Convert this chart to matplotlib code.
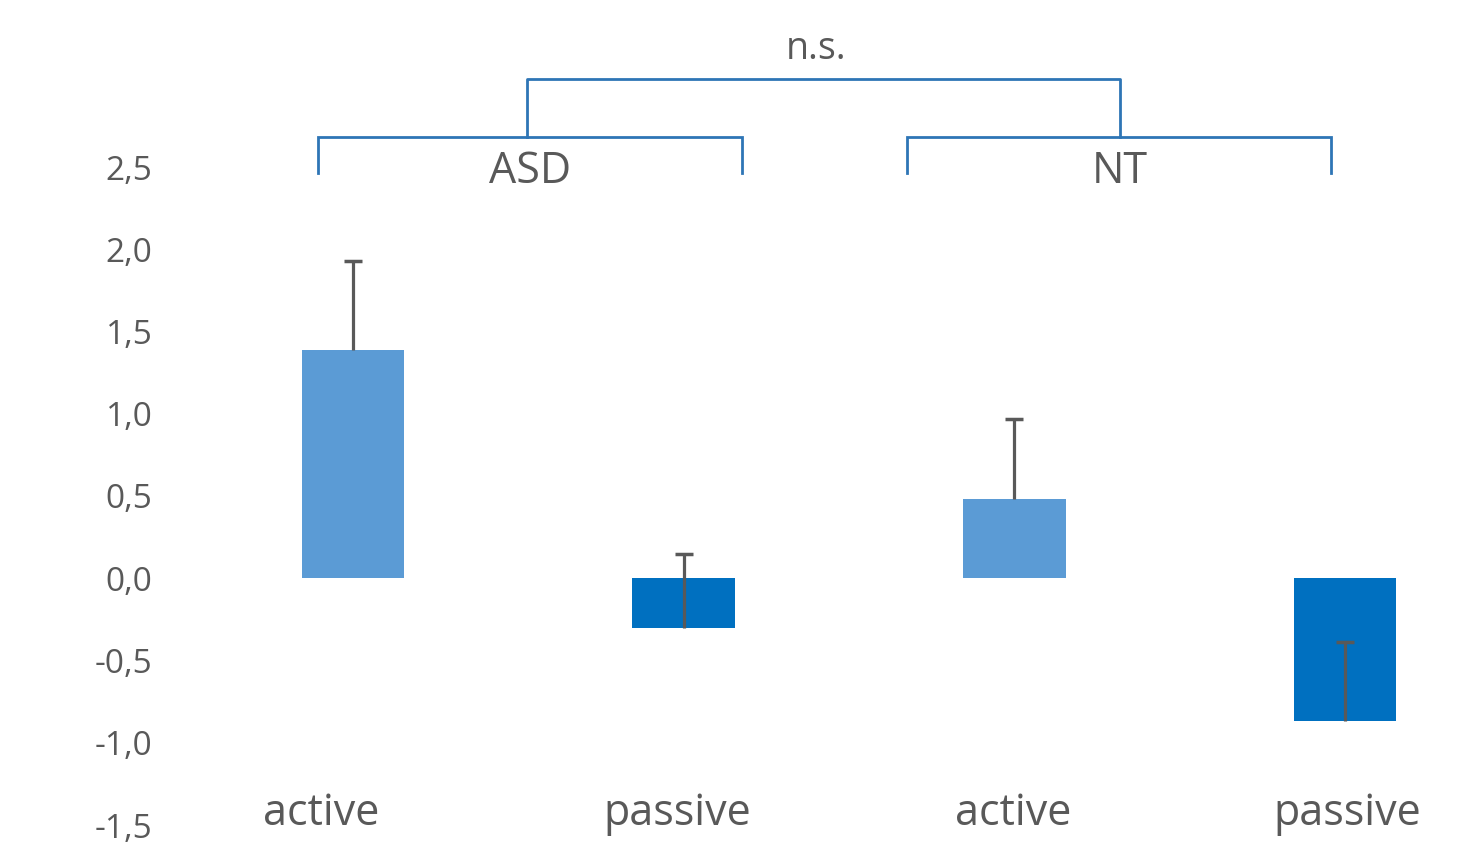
import numpy as np
import matplotlib.pyplot as plt

plt.rcParams['font.family'] = ['Open Sans', 'DejaVu Sans']

# data
groups = ['ASD', 'ASD', 'NT', 'NT']
conditions = ['active', 'passive', 'active', 'passive']
means = [1.39, -0.30, 0.48, -0.87]
errors = [0.54, 0.45, 0.49, 0.48]   # plus-direction error bars only
yticks = [-1.5, -1.0, -0.5, 0.0, 0.5, 1.0, 1.5, 2.0, 2.5]

light = '#5B9BD5'
dark = '#0070C0'
colors = [light, dark, light, dark]
bracket_col = '#2E75B6'
text_col = '#595959'

fig = plt.figure(figsize=(14.63, 8.46), dpi=100)
ax = fig.add_axes([190 / 1463, 21 / 846, 1 - 190 / 1463, 658 / 846])

x = np.arange(len(means))
ax.bar(x, means, width=0.311, color=colors, zorder=2)
tops = np.array(means) + np.array(errors)
ax.vlines(x, means, tops, color=text_col, lw=2.3, zorder=3)
ax.plot(x, tops, ls='none', marker='_', ms=13, mew=2.5, color=text_col, zorder=3)

ax.set_xlim(-0.493, 3.357)
ax.set_ylim(-1.5, 2.5)
ax.set_yticks(yticks)
ax.set_yticklabels([('%.1f' % v).replace('.', ',') for v in yticks])
ax.tick_params(axis='y', length=0, pad=27, labelsize=24, labelcolor=text_col)
ax.set_xticks([])
for s in ax.spines.values():
    s.set_visible(False)

# category labels
label_x = [-0.097, 0.98, 1.996, 3.006]
for lx, lab in zip(label_x, conditions):
    ax.text(lx, -1.43, lab, ha='center', va='center', fontsize=31,
            color=text_col, clip_on=False)

# brackets
lw = 2
def bracket(x0, x1, y_top, y_bot):
    ax.plot([x0, x0, x1, x1], [y_bot, y_top, y_top, y_bot], color=bracket_col,
            lw=lw, clip_on=False, solid_joinstyle='miter')

bracket(-0.106, 1.176, 2.683, 2.464)
bracket(1.675, 2.957, 2.683, 2.464)
ax.plot([0.526, 0.526, 2.319, 2.319], [2.683, 3.035, 3.035, 2.683],
        color=bracket_col, lw=lw, clip_on=False)

ax.text(0.535, 2.47, 'ASD', ha='center', va='center', fontsize=31,
        color=text_col, clip_on=False)
ax.text(2.319, 2.47, 'NT', ha='center', va='center', fontsize=31,
        color=text_col, clip_on=False)
ax.text(1.399, 3.22, 'n.s.', ha='center', va='center', fontsize=27,
        color=text_col, clip_on=False)

fig.savefig('out.png', dpi=100)
